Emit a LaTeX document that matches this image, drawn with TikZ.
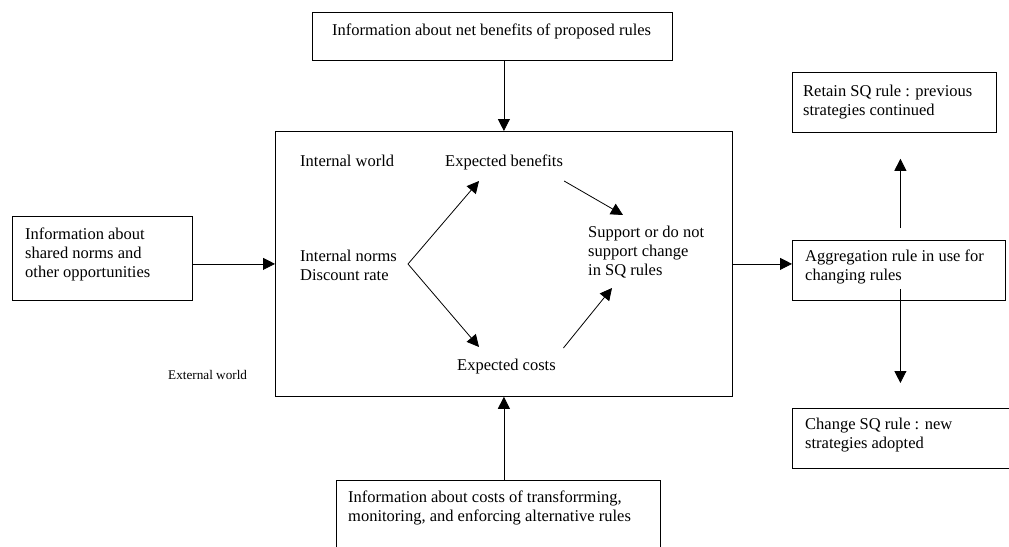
\documentclass[tikz,border=0pt]{standalone}
\usepackage{fontspec}
\setmainfont{Liberation Serif}
\usetikzlibrary{arrows.meta,calc}
\begin{document}
\begin{tikzpicture}[x=1pt,y=-1pt,
  box/.style={draw, line width=0.8pt, inner sep=0pt, anchor=north west},
  % multi-line texts are placed by the baseline of their last line
  txt/.style={anchor=base west, inner sep=0pt, align=left,
              font=\fontsize{16.5}{19}\selectfont},
  small/.style={anchor=base west, inner sep=0pt,
                font=\fontsize{13.2}{15}\selectfont},
  arr/.style={line width=0.8pt, -{Triangle[length=12pt,width=12pt]}},
]
\useasboundingbox (0,0) rectangle (1009,546);
\clip (0,0) rectangle (1009,546);

% frames
\node[box, minimum width=360pt, minimum height=48pt]  (top)    at (312,12)  {};
\node[box, minimum width=457pt, minimum height=265pt] (main)   at (275,131) {};
\node[box, minimum width=180pt, minimum height=84pt]  (left)   at (12,216)  {};
\node[box, minimum width=324pt, minimum height=100pt] (bottom) at (336,480) {};
\node[box, minimum width=213pt, minimum height=60pt]  (agg)    at (792,240) {};
\node[box, minimum width=204pt, minimum height=60pt]  (retain) at (792,72)  {};
\node[box, minimum width=240pt, minimum height=60pt]  (change) at (792,408) {};

% texts
\node[txt] (topT)  at (332,35)  {Information about net benefits of proposed rules};
\node[txt] (leftT) at (25,277)  {Information about\\shared norms and\\other opportunities};
\node[txt] (internal) at (300,166) {Internal world};
\node[txt] (ben)   at (445,166) {Expected benefits};
\node[txt] (norms) at (300,280) {Internal norms\\Discount rate};
\node[txt] (cost)  at (457,370) {Expected costs};
\node[txt] (sup)   at (588,275) {Support or do not\\support change\\in SQ rules};
\node[small] (ext) at (168,379) {External world};
\node[txt] (botT)  at (348,521) {Information about costs of transforrming,\\monitoring, and enforcing alternative rules};
\node[txt] (retT)  at (803,115) {Retain SQ rule : previous\\strategies continued};
\node[txt] (aggT)  at (805,280) {Aggregation rule in use for\\changing rules};
\node[txt] (chT)   at (805,448) {Change SQ rule : new\\strategies adopted};

% flows into and out of the internal world
\draw[arr] (top.south -| main.north) -- (main.north);
\draw[arr] (left.east |- main.west) -- (main.west);
\draw[arr] (bottom.north -| main.south) -- (main.south);
\draw[arr] (main.east) -- (main.east -| agg.west);

% outcomes of the aggregation rule
\coordinate (aggUp) at ($(agg.north)+(1.5,-12)$);
\coordinate (retTip) at ($(retain.south -| aggUp)+(0,26)$);
\coordinate (aggDn) at ($(agg.south)+(1.5,-12)$);
\coordinate (chTip) at ($(change.north -| aggDn)+(0,-25)$);
\draw[arr] (aggUp) -- (retTip);
\draw[arr] (aggDn) -- (chTip);

% evaluation inside the internal world
\coordinate (v) at (408,264);
\coordinate (benIn) at ($(ben.base west)+(34,15)$);
\coordinate (benOut) at ($(ben.base east)+(1,15)$);
\coordinate (costIn) at ($(cost.base west)+(22,-23)$);
\coordinate (costOut) at ($(cost.base east)+(7.5,-22)$);
\coordinate (supIn1) at ($(sup.base west)+(35,-60)$);
\coordinate (supIn2) at ($(sup.base west)+(24,13)$);
\draw[arr] (v) -- (benIn);
\draw[arr] (v) -- (costIn);
\draw[arr] (benOut) -- (supIn1);
\draw[arr] (costOut) -- (supIn2);
\end{tikzpicture}
\end{document}
